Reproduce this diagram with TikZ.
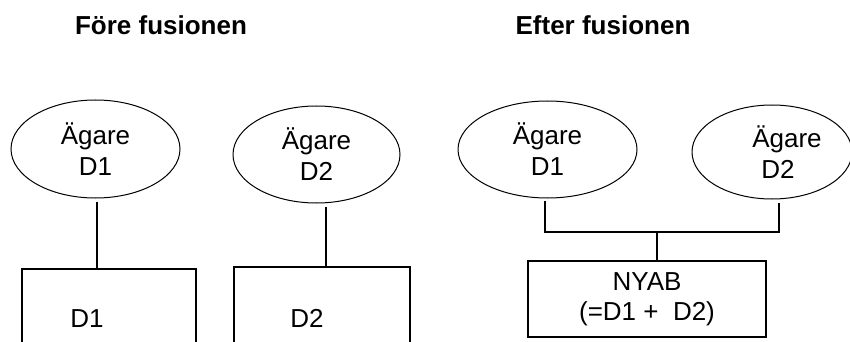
\documentclass[tikz,border=0pt]{standalone}
\usepackage{fontspec}
\setmainfont{Liberation Sans}
\usetikzlibrary{shapes.geometric}
\begin{document}
\begin{tikzpicture}[x=1pt,y=-1pt,
  every node/.style={font=\fontsize{26}{31}\selectfont},
  owner/.style={ellipse,draw,line width=1pt,inner sep=0pt,align=center},
  company/.style={rectangle,draw,line width=1.2pt,inner sep=0pt,align=center},
  title/.style={font=\fontsize{26}{31}\selectfont\bfseries,anchor=base,inner sep=0pt},
  link/.style={line width=1.3pt},
  lbl/.style={inner sep=0pt}]
\useasboundingbox (0,0) rectangle (850,342);
\clip (0,0) rectangle (850,342);
% titles
\node[title] (tbefore) at (161,35) {Före fusionen};
\node[title] (tafter) at (603,35) {Efter fusionen};
% before
\node[owner,minimum width=169pt,minimum height=98pt] (e1) at (95.5,149) {Ägare\\D1};
\node[owner,minimum width=167pt,minimum height=97pt] (e2) at (316.5,154.5) {Ägare\\D2};
\node[company,minimum width=174pt,minimum height=120pt] (b1) at (109,329) {};
\node[company,minimum width=176pt,minimum height=120pt] (b2) at (322,327) {};
\node[lbl] (l1) at (87,319) {D1};
\node[lbl] (l2) at (307,318) {D2};
\coordinate (s1) at ([xshift=1.5pt]e1.south);
\coordinate (s2) at ([xshift=9.5pt]e2.south);
\draw[link,shorten <=3pt] (s1) -- (s1 |- b1.north);
\draw[link,shorten <=3pt] (s2) -- (s2 |- b2.north);
% after
\node[owner,minimum width=179pt,minimum height=97pt] (e3) at (547.5,149.5) {Ägare\\D1};
\node[owner,minimum width=160pt,minimum height=94pt] (e4) at (772,152) {\hspace*{30pt}Ägare\\\hspace*{12pt}D2};
\node[company,minimum width=238pt,minimum height=76pt] (b3) at (647,299) {NYAB\\[-1pt](=D1 +\ \ D2)};
\coordinate (j) at (657,232);
\coordinate (s3) at ([xshift=-2.5pt]e3.south);
\coordinate (s4) at ([xshift=7pt]e4.south);
\draw[link,shorten <=2pt] (s3) -- (s3 |- j) -- (s4 |- j) -- ([yshift=-3pt]s4);
\draw[link] (j) -- (j |- b3.north);
\end{tikzpicture}
\end{document}
